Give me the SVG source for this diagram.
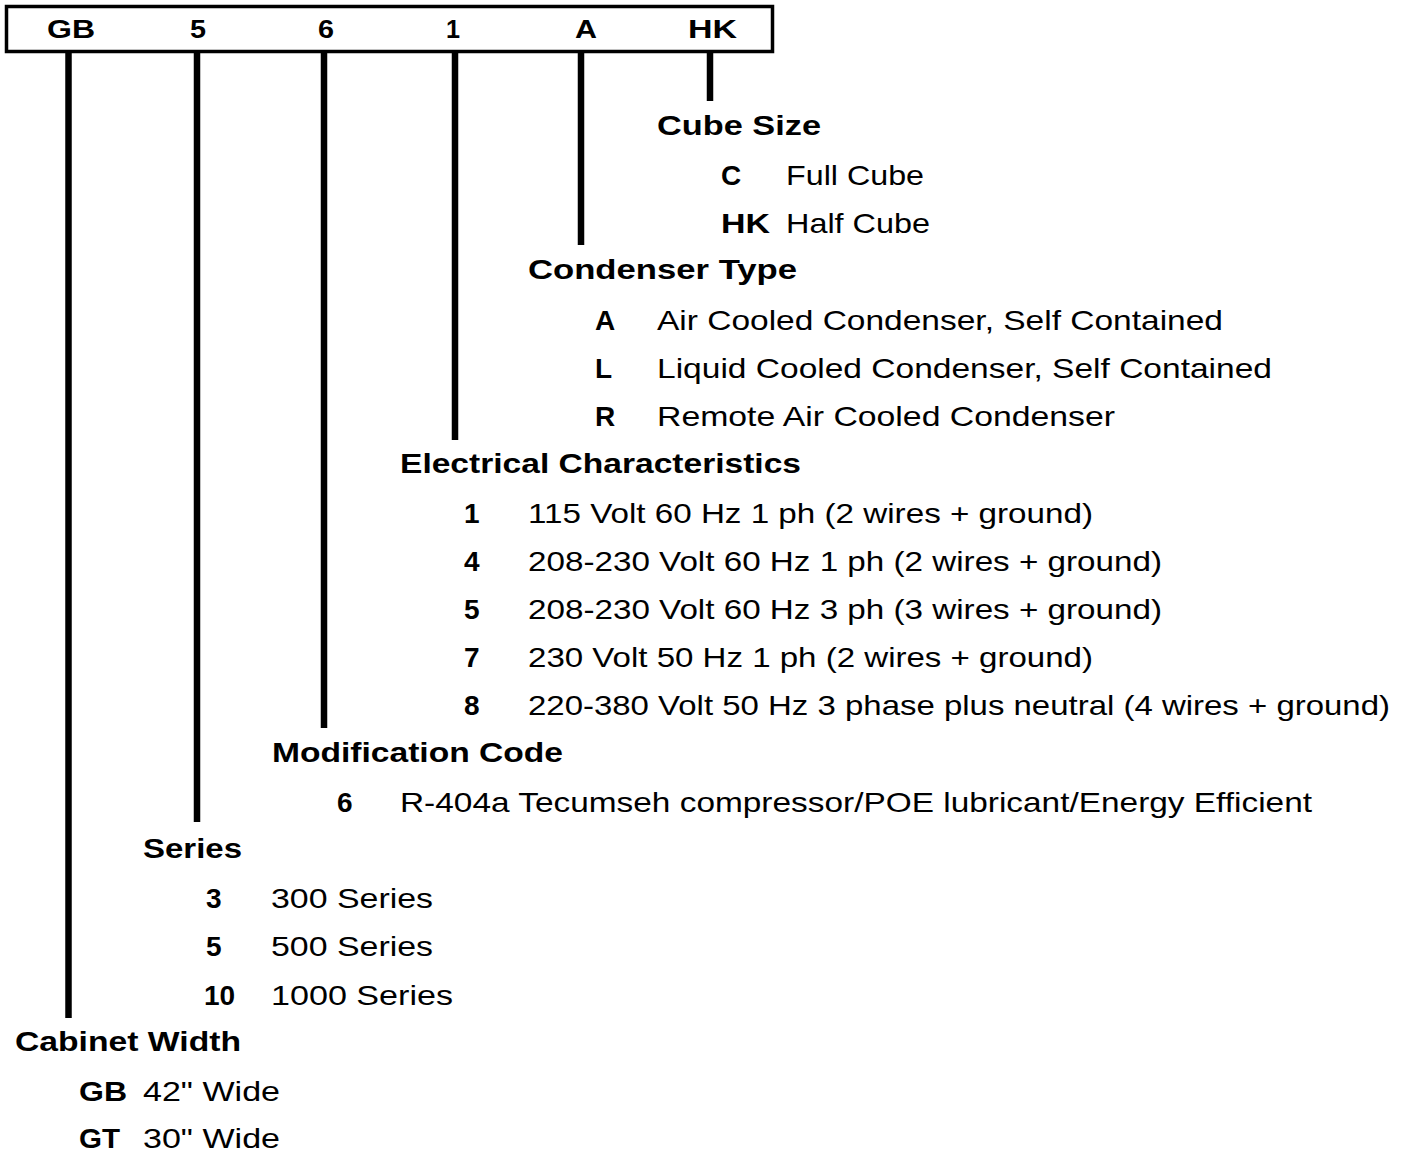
<svg xmlns="http://www.w3.org/2000/svg" width="1409" height="1152" viewBox="0 0 1409 1152">
<style>
.h{font-family:"Liberation Sans",Arial,sans-serif;font-weight:bold;font-size:28px;fill:#000}
.c{font-family:"Liberation Sans",Arial,sans-serif;font-weight:bold;font-size:28px;fill:#000}
.t{font-family:"Liberation Sans",Arial,sans-serif;font-size:28px;fill:#000}
.top{font-family:"Liberation Sans",Arial,sans-serif;font-weight:bold;font-size:25px;fill:#000}
.ln{stroke:#000;stroke-width:6.5;fill:none}
</style>
<rect width="1409" height="1152" fill="#fff"/>
<g id="code-box">
<rect x="6.5" y="6.5" width="766" height="45" fill="#fff" stroke="#000" stroke-width="3.5"/>
<text class="top" x="47" y="38" textLength="48" lengthAdjust="spacingAndGlyphs">GB</text>
<text class="top" x="190" y="38" textLength="16" lengthAdjust="spacingAndGlyphs">5</text>
<text class="top" x="318" y="38" textLength="16" lengthAdjust="spacingAndGlyphs">6</text>
<text class="top" x="446" y="38" textLength="14" lengthAdjust="spacingAndGlyphs">1</text>
<text class="top" x="575" y="38" textLength="22" lengthAdjust="spacingAndGlyphs">A</text>
<text class="top" x="688" y="38" textLength="49" lengthAdjust="spacingAndGlyphs">HK</text>
</g>
<g id="connectors">
<line class="ln" x1="68.5" y1="53" x2="68.5" y2="1018"/>
<line class="ln" x1="197" y1="53" x2="197" y2="822"/>
<line class="ln" x1="324" y1="53" x2="324" y2="728"/>
<line class="ln" x1="455" y1="53" x2="455" y2="440"/>
<line class="ln" x1="581" y1="53" x2="581" y2="245"/>
<line class="ln" x1="710" y1="53" x2="710" y2="101"/>
</g>
<g id="cube-size">
<text class="h" x="657" y="135" textLength="164" lengthAdjust="spacingAndGlyphs">Cube Size</text>
<text class="c" x="721" y="185">C</text><text class="t" x="786" y="185" textLength="138" lengthAdjust="spacingAndGlyphs">Full Cube</text>
<text class="c" x="721" y="233" textLength="49" lengthAdjust="spacingAndGlyphs">HK</text><text class="t" x="786" y="233" textLength="144" lengthAdjust="spacingAndGlyphs">Half Cube</text>
</g>
<g id="condenser-type">
<text class="h" x="528" y="279" textLength="269" lengthAdjust="spacingAndGlyphs">Condenser Type</text>
<text class="c" x="595" y="330">A</text><text class="t" x="657" y="330" textLength="566" lengthAdjust="spacingAndGlyphs">Air Cooled Condenser, Self Contained</text>
<text class="c" x="595" y="378">L</text><text class="t" x="657" y="378" textLength="615" lengthAdjust="spacingAndGlyphs">Liquid Cooled Condenser, Self Contained</text>
<text class="c" x="595" y="426">R</text><text class="t" x="657" y="426" textLength="458" lengthAdjust="spacingAndGlyphs">Remote Air Cooled Condenser</text>
</g>
<g id="electrical">
<text class="h" x="400" y="473" textLength="401" lengthAdjust="spacingAndGlyphs">Electrical Characteristics</text>
<text class="c" x="464" y="523">1</text><text class="t" x="528" y="523" textLength="565" lengthAdjust="spacingAndGlyphs">115 Volt 60 Hz 1 ph (2 wires + ground)</text>
<text class="c" x="464" y="571">4</text><text class="t" x="528" y="571" textLength="634" lengthAdjust="spacingAndGlyphs">208-230 Volt 60 Hz 1 ph (2 wires + ground)</text>
<text class="c" x="464" y="619">5</text><text class="t" x="528" y="619" textLength="634" lengthAdjust="spacingAndGlyphs">208-230 Volt 60 Hz 3 ph (3 wires + ground)</text>
<text class="c" x="464" y="667">7</text><text class="t" x="528" y="667" textLength="565" lengthAdjust="spacingAndGlyphs">230 Volt 50 Hz 1 ph (2 wires + ground)</text>
<text class="c" x="464" y="715">8</text><text class="t" x="528" y="715" textLength="862" lengthAdjust="spacingAndGlyphs">220-380 Volt 50 Hz 3 phase plus neutral (4 wires + ground)</text>
</g>
<g id="modification-code">
<text class="h" x="272" y="762" textLength="291" lengthAdjust="spacingAndGlyphs">Modification Code</text>
<text class="c" x="337" y="812">6</text><text class="t" x="400" y="812" textLength="912" lengthAdjust="spacingAndGlyphs">R-404a Tecumseh compressor/POE lubricant/Energy Efficient</text>
</g>
<g id="series">
<text class="h" x="143" y="858" textLength="99" lengthAdjust="spacingAndGlyphs">Series</text>
<text class="c" x="206" y="908">3</text><text class="t" x="271" y="908" textLength="162" lengthAdjust="spacingAndGlyphs">300 Series</text>
<text class="c" x="206" y="956">5</text><text class="t" x="271" y="956" textLength="162" lengthAdjust="spacingAndGlyphs">500 Series</text>
<text class="c" x="204" y="1005">10</text><text class="t" x="271" y="1005" textLength="182" lengthAdjust="spacingAndGlyphs">1000 Series</text>
</g>
<g id="cabinet-width">
<text class="h" x="15" y="1051" textLength="226" lengthAdjust="spacingAndGlyphs">Cabinet Width</text>
<text class="c" x="79" y="1101" textLength="48" lengthAdjust="spacingAndGlyphs">GB</text><text class="t" x="143" y="1101" textLength="137" lengthAdjust="spacingAndGlyphs">42" Wide</text>
<text class="c" x="79" y="1148" textLength="41" lengthAdjust="spacingAndGlyphs">GT</text><text class="t" x="143" y="1148" textLength="137" lengthAdjust="spacingAndGlyphs">30" Wide</text>
</g>
</svg>
